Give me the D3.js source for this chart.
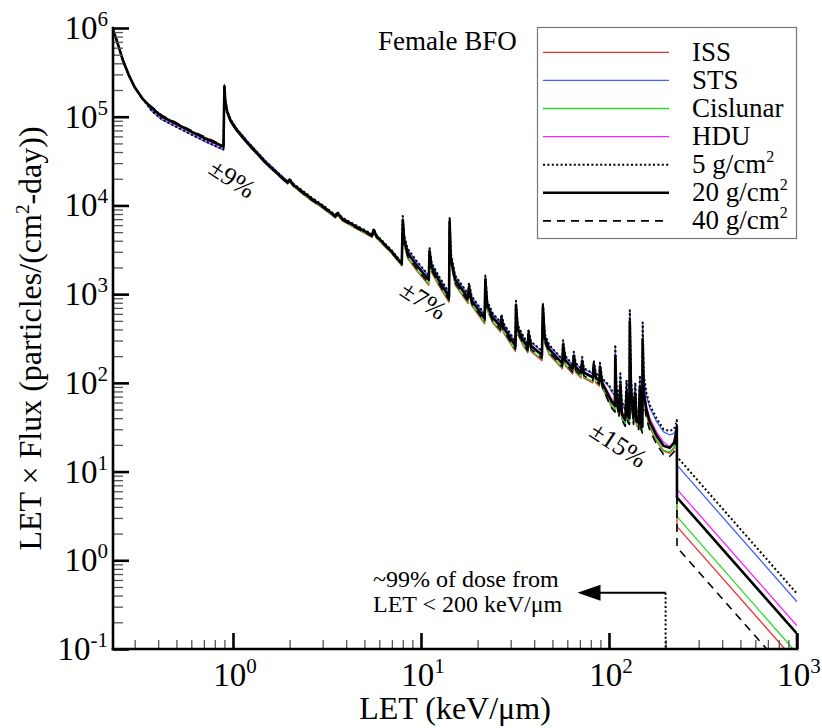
<!DOCTYPE html>
<html>
<head>
<meta charset="utf-8">
<script src="https://cdnjs.cloudflare.com/ajax/libs/d3/7.8.5/d3.min.js"></script>
<style>
    body { margin: 0; background: #fff; }
    svg, text { font-family: "Liberation Serif", "Times New Roman", serif; }
</style>
</head>
<body>
<svg id="chart" width="822" height="728"></svg>
<script>
// LET grid shared by every spectrum (keV/um)
var letGrid = [0.23, 0.24, 0.25, 0.26, 0.28, 0.30, 0.33, 0.37, 0.42, 0.5, 0.6, 0.7, 0.8, 0.89,
    0.9, 0.91, 0.93, 0.97, 1.05, 1.2, 1.5, 1.95,
    2.0, 2.1, 2.6, 3.0, 3.5, 3.6, 3.8, 4.5, 5.5, 5.6, 5.8, 7.0, 7.9,
    8.0, 8.15, 8.5, 9.5, 11.0, 11.1, 11.4, 12.5, 14.1, 14.2, 14.4, 15.2, 17.8, 18.0, 18.6, 21.8, 22.0, 22.5, 24, 26.5, 26.8, 27.5, 31.8, 32.0, 32.7, 35, 37, 37.3, 38.5, 44, 44.5, 45.5, 48, 56.5, 57, 58.5, 64, 65, 66.5, 71, 72, 73.5, 82, 83, 85, 89, 89.5, 92,
    100, 104, 107.5, 108, 109.5, 113, 115, 117, 122, 124, 126, 128.5, 129, 131, 135, 138, 140, 144, 146, 148, 150.5,
    151, 153, 158, 165, 180, 195, 210, 222, 227, 229.5,
    230, 1000];

// LET x flux, particles/(cm2-day)
var fluxISS = [9.3e5, 7.25e5, 5.5e5, 4.2e5, 2.85e5, 2.1e5, 1.57e5, 1.25e5, 1.0e5, 8.3e4, 6.8e4, 5.8e4, 5.1e4, 4.6e4,
    2.13e5, 1.46e5, 1.12e5, 8.7e4, 6.8e4, 4.85e4, 2.91e4, 1.75e4,
    1.85e4, 1.62e4, 1.14e4, 9300, 7200, 7800, 6750, 5500, 4370, 5000, 4280, 2850, 2090,
    5900, 3480, 2520, 1830, 1260, 2610, 1740, 1220, 809, 5740, 2260, 1260, 783, 1044, 740, 461, 1262, 653, 479, 374, 461, 365, 226, 653, 348, 261, 218, 313, 226, 178, 626, 278, 209, 144, 235, 157, 126, 174, 131, 113, 152, 113, 100, 139, 100, 91.4, 131, 87,
    60.9, 52.2, 47.9, 174, 60.9, 41.8, 82.7, 39.2, 33.1, 69.6, 36.5, 34.8, 426, 69.6, 34.8, 65.3, 33.1, 30.5, 78.3, 30.5, 27.8,
    270, 69.6, 43.5, 31.3, 21.8, 17, 16.1, 18.3, 23.5, 27.8,
    2.4, 0.070];

var fluxSTS = [9.5e5, 7.4e5, 5.6e5, 4.3e5, 2.9e5, 2.15e5, 1.6e5, 1.15e5, 9.2e4, 7.6e4, 6.3e4, 5.3e4, 4.7e4, 4.2e4,
    2.31e5, 1.58e5, 1.21e5, 9.45e4, 7.35e4, 5.25e4, 3.15e4, 1.89e4,
    1.99e4, 1.73e4, 1.22e4, 1.0e4, 7750, 8350, 7250, 5900, 4700, 5400, 4600, 3060, 2240,
    7500, 4400, 3190, 2310, 1600, 3300, 2200, 1540, 1020, 7260, 2860, 1600, 990, 1320, 935, 583, 1600, 825, 605, 473, 583, 462, 286, 825, 440, 330, 275, 396, 286, 226, 792, 352, 264, 182, 297, 198, 160, 220, 165, 143, 193, 143, 127, 176, 127, 116, 165, 110,
    91, 78, 71.5, 260, 91, 62, 124, 58.5, 49, 104, 55, 52, 640, 104, 52, 97.5, 49, 45.5, 117, 45.5, 41.6,
    450, 116, 72.5, 52, 36, 28, 26, 27, 30, 33,
    11.8, 0.34];

var fluxCislunar = [9.5e5, 7.4e5, 5.6e5, 4.3e5, 2.9e5, 2.15e5, 1.6e5, 1.28e5, 1.02e5, 8.5e4, 6.9e4, 5.9e4, 5.2e4, 4.7e4,
    2.16e5, 1.47e5, 1.13e5, 8.8e4, 6.9e4, 4.9e4, 2.94e4, 1.76e4,
    1.87e4, 1.63e4, 1.15e4, 9400, 7300, 7900, 6800, 5600, 4400, 5100, 4300, 2880, 2110,
    6100, 3600, 2610, 1890, 1300, 2700, 1800, 1260, 837, 5900, 2340, 1300, 810, 1080, 765, 477, 1300, 675, 495, 387, 477, 378, 234, 675, 360, 270, 225, 324, 234, 185, 648, 288, 216, 149, 243, 162, 131, 180, 135, 117, 158, 117, 104, 144, 104, 94.5, 135, 90,
    63, 54, 49.5, 180, 63, 43.2, 85.5, 40.5, 34.2, 72, 37.8, 36, 441, 72, 36, 67.5, 34.2, 31.5, 81, 31.5, 28.8,
    279, 72, 45, 32.4, 22.5, 17.5, 16.6, 18.9, 24.3, 28.8,
    3.1, 0.089];

var fluxHDU = [9.5e5, 7.4e5, 5.6e5, 4.3e5, 2.9e5, 2.15e5, 1.6e5, 1.21e5, 9.7e4, 8.05e4, 6.6e4, 5.6e4, 4.95e4, 4.45e4,
    2.2e5, 1.5e5, 1.15e5, 9.0e4, 7.0e4, 5.0e4, 3.0e4, 1.8e4,
    1.95e4, 1.7e4, 1.2e4, 9800, 7600, 8200, 7100, 5800, 4600, 5300, 4500, 3000, 2200,
    7000, 4120, 2990, 2160, 1490, 3090, 2060, 1440, 958, 6800, 2680, 1490, 927, 1236, 876, 546, 1494, 773, 567, 443, 546, 433, 268, 773, 412, 309, 258, 371, 268, 211, 742, 330, 247, 170, 278, 185, 149, 206, 155, 134, 180, 134, 118, 165, 118, 108, 155, 103,
    75.6, 64.8, 59.4, 216, 75.6, 51.8, 103, 48.6, 41, 86.4, 45.4, 43.2, 529, 86.4, 43.2, 81, 41, 37.8, 97.2, 37.8, 34.6,
    341, 88, 55, 39.6, 27.5, 21.5, 19, 22, 26, 30,
    6.3, 0.183];

var flux5 = [9.5e5, 7.4e5, 5.6e5, 4.3e5, 2.9e5, 2.15e5, 1.6e5, 1.16e5, 9.3e4, 7.7e4, 6.3e4, 5.4e4, 4.7e4, 4.3e4,
    2.27e5, 1.55e5, 1.18e5, 9.3e4, 7.2e4, 5.15e4, 3.1e4, 1.85e4,
    2.0e4, 1.75e4, 1.24e4, 1.01e4, 7800, 8450, 7300, 6000, 4750, 5450, 4650, 3100, 2270,
    7600, 4500, 3250, 2350, 1620, 3360, 2240, 1570, 1040, 7400, 2900, 1620, 1010, 1340, 950, 594, 1620, 840, 616, 482, 594, 470, 291, 840, 448, 336, 280, 403, 291, 230, 806, 358, 269, 185, 302, 202, 162, 224, 168, 146, 196, 146, 129, 179, 129, 118, 168, 112,
    94.5, 81, 74, 270, 94.5, 65, 128, 61, 51, 108, 57, 54, 660, 108, 54, 101, 51, 47, 122, 47, 43,
    480, 124, 78, 56, 39, 30, 28.7, 30, 35, 38,
    14.7, 0.42];

// 20 g/cm2 closes down onto the axis at 1000 keV/um
var let20 = letGrid.concat([1000]);
var flux20 = [9.5e5, 7.4e5, 5.6e5, 4.3e5, 2.9e5, 2.15e5, 1.6e5, 1.25e5, 1.0e5, 8.3e4, 6.8e4, 5.8e4, 5.1e4, 4.6e4,
    2.2e5, 1.5e5, 1.15e5, 9.0e4, 7.0e4, 5.0e4, 3.0e4, 1.8e4,
    1.95e4, 1.7e4, 1.2e4, 9800, 7600, 8200, 7100, 5800, 4600, 5300, 4500, 3000, 2200,
    6800, 4000, 2900, 2100, 1450, 3000, 2000, 1400, 930, 6600, 2600, 1450, 900, 1200, 850, 530, 1450, 750, 550, 430, 530, 420, 260, 750, 400, 300, 250, 360, 260, 205, 720, 320, 240, 165, 270, 180, 145, 200, 150, 130, 175, 130, 115, 160, 115, 105, 150, 100,
    70, 60, 55, 200, 70, 48, 95, 45, 38, 80, 42, 40, 490, 80, 40, 75, 38, 35, 90, 35, 32,
    310, 80, 50, 36, 25, 19.5, 18.5, 21, 27, 32,
    5.1, 0.149, 0.1];

var flux40 = [9.5e5, 7.4e5, 5.6e5, 4.3e5, 2.9e5, 2.15e5, 1.6e5, 1.29e5, 1.03e5, 8.55e4, 7.0e4, 6.0e4, 5.25e4, 4.75e4,
    2.16e5, 1.47e5, 1.13e5, 8.8e4, 6.9e4, 4.9e4, 2.94e4, 1.76e4,
    1.89e4, 1.65e4, 1.16e4, 9500, 7400, 7950, 6900, 5600, 4460, 5150, 4370, 2910, 2130,
    6260, 3680, 2670, 1930, 1330, 2760, 1840, 1290, 856, 6070, 2390, 1330, 828, 1104, 782, 488, 1334, 690, 506, 396, 488, 386, 239, 690, 368, 276, 230, 331, 239, 189, 662, 294, 221, 152, 248, 166, 133, 184, 138, 120, 161, 120, 106, 147, 106, 96.6, 138, 92,
    59.5, 51, 46.8, 170, 59.5, 40.8, 80.8, 38.3, 32.3, 68, 35.7, 34, 417, 68, 34, 63.8, 32.3, 29.8, 76.5, 29.8, 27.2,
    248, 64, 40, 28.8, 20, 15.6, 14.8, 16.8, 21.6, 25.6,
    1.4, 0.041];

var xDecades = [0, 1, 2, 3];
var yDecades = [-1, 0, 1, 2, 3, 4, 5, 6];
var spreadLabels = [
    {text: "\u00b19%", let: 0.99, flux: 2.0e4},
    {text: "\u00b17%", let: 10.3, flux: 850},
    {text: "\u00b115%", let: 112, flux: 20}
];
var doseLET = 200, doseArrowFlux = 0.43, doseArrowTip = 68;

var series = [
    {name: "ISS", let: letGrid, flux: fluxISS, color: "#ee2d2d", width: 1.3, dash: null},
    {name: "Cislunar", let: letGrid, flux: fluxCislunar, color: "#22dd22", width: 1.3, dash: null},
    {name: "HDU", let: letGrid, flux: fluxHDU, color: "#ff22ff", width: 1.3, dash: null},
    {name: "STS", let: letGrid, flux: fluxSTS, color: "#4060ff", width: 1.3, dash: null},
    {name: "40 g/cm", sup: "2", let: letGrid, flux: flux40, color: "#000", width: 1.6, dash: "8,6"},
    {name: "5 g/cm", sup: "2", let: letGrid, flux: flux5, color: "#000", width: 2, dash: "2,2.4"},
    {name: "20 g/cm", sup: "2", let: let20, flux: flux20, color: "#000", width: 2.6, dash: null}
];
var legendOrder = ["ISS", "STS", "Cislunar", "HDU", "5 g/cm", "20 g/cm", "40 g/cm"];

var serif = "Liberation Serif, Times New Roman, serif";
var svg = d3.select("#chart");

var x = d3.scaleLog().domain([0.23, 1000]).range([113, 797]);
var y = d3.scaleLog().domain([0.1, 1e6]).range([649, 28]);

svg.append("clipPath").attr("id", "plot-clip")
    .append("rect")
    .attr("x", x.range()[0]).attr("y", y.range()[1])
    .attr("width", x.range()[1] - x.range()[0])
    .attr("height", y.range()[0] - y.range()[1]);

// spectra
var line = d3.line()
    .x(function(d) { return x(d[0]); })
    .y(function(d) { return y(d[1]); });

svg.append("g").attr("clip-path", "url(#plot-clip)")
    .selectAll("path")
    .data(series)
    .enter().append("path")
    .attr("d", function(s) { return line(d3.zip(s.let, s.flux)); })
    .attr("fill", "none")
    .attr("stroke", function(s) { return s.color; })
    .attr("stroke-width", function(s) { return s.width; })
    .attr("stroke-dasharray", function(s) { return s.dash; })
    .attr("stroke-linejoin", "round");

// axes: major + minor ticks pointing inward, no top/right frame
var xMajor = xDecades.map(function(k) { return Math.pow(10, k); });
var yMajor = yDecades.map(function(k) { return Math.pow(10, k); });
var xMinor = x.ticks().filter(function(v) { return xMajor.indexOf(v) < 0 && v >= 0.23; });
var yMinor = y.ticks().filter(function(v) { return yMajor.indexOf(v) < 0; });

function styleAxis(g, w, col) {
    g.select(".domain").remove();
    g.selectAll(".tick line").attr("stroke", col).attr("stroke-width", w);
}

svg.append("g").attr("transform", "translate(0," + y.range()[0] + ")")
    .call(d3.axisBottom(x).tickValues(xMinor).tickSize(-9).tickFormat(""))
    .call(styleAxis, 1.3, "#555");
svg.append("g").attr("transform", "translate(0," + y.range()[0] + ")")
    .call(d3.axisBottom(x).tickValues(xMajor).tickSize(-16).tickFormat(""))
    .call(styleAxis, 2.6, "#000");
svg.append("g").attr("transform", "translate(" + x.range()[0] + ",0)")
    .call(d3.axisLeft(y).tickValues(yMinor).tickSize(-10).tickFormat(""))
    .call(styleAxis, 1.3, "#555");
svg.append("g").attr("transform", "translate(" + x.range()[0] + ",0)")
    .call(d3.axisLeft(y).tickValues(yMajor).tickSize(-16).tickFormat(""))
    .call(styleAxis, 2.6, "#000");

svg.append("line")
    .attr("x1", x.range()[0]).attr("x2", x.range()[1])
    .attr("y1", y.range()[0]).attr("y2", y.range()[0])
    .attr("stroke", "#000").attr("stroke-width", 2.6).attr("stroke-linecap", "square");
svg.append("line")
    .attr("x1", x.range()[0]).attr("x2", x.range()[0])
    .attr("y1", y.range()[1]).attr("y2", y.range()[0])
    .attr("stroke", "#000").attr("stroke-width", 2.6).attr("stroke-linecap", "square");

// power-of-ten tick labels
function powLabel(sel, k) {
    sel.append("tspan").text("10");
    sel.append("tspan").attr("dy", -13).attr("font-size", 21).text(k);
}
xDecades.forEach(function(k) {
    svg.append("text")
        .attr("x", x(Math.pow(10, k)) + 2).attr("y", 686)
        .attr("text-anchor", "middle").attr("font-size", 33).attr("font-family", serif)
        .call(powLabel, k);
});
yDecades.forEach(function(k) {
    svg.append("text")
        .attr("x", 108).attr("y", y(Math.pow(10, k)) + 11)
        .attr("text-anchor", "end").attr("font-size", 33).attr("font-family", serif)
        .call(powLabel, k);
});

// axis titles
svg.append("text")
    .attr("x", (x.range()[0] + x.range()[1]) / 2).attr("y", 719)
    .attr("text-anchor", "middle").attr("font-size", 32).attr("font-family", serif)
    .text("LET (keV/\u03bcm)");

var yTitle = svg.append("text")
    .attr("transform", "translate(41," + ((y.range()[0] + y.range()[1]) / 2) + ") rotate(-90)")
    .attr("text-anchor", "middle").attr("font-size", 32).attr("font-family", serif);
yTitle.append("tspan").text("LET \u00d7 Flux (particles/(cm");
yTitle.append("tspan").attr("dy", -12).attr("font-size", 19).text("2");
yTitle.append("tspan").attr("dy", 12).text("-day))");

// spread annotations
svg.selectAll(".spread")
    .data(spreadLabels)
    .enter().append("text")
    .attr("class", "spread")
    .attr("transform", function(d) { return "translate(" + x(d.let) + "," + y(d.flux) + ") rotate(33)"; })
    .attr("text-anchor", "middle").attr("dominant-baseline", "central")
    .attr("font-size", 26).attr("font-family", serif)
    .text(function(d) { return d.text; });

// ~99% of dose arrow
var ax = x(doseLET), ay = y(doseArrowFlux), tip = x(doseArrowTip);
svg.append("line")
    .attr("x1", ax).attr("x2", ax).attr("y1", ay).attr("y2", y.range()[0])
    .attr("stroke", "#000").attr("stroke-width", 2).attr("stroke-dasharray", "2,2.4");
svg.append("line")
    .attr("x1", ax).attr("x2", tip + 20).attr("y1", ay).attr("y2", ay)
    .attr("stroke", "#000").attr("stroke-width", 2);
svg.append("path")
    .attr("d", "M" + tip + "," + ay + "L" + (tip + 23) + "," + (ay - 8) + "L" + (tip + 23) + "," + (ay + 8) + "Z")
    .attr("fill", "#000");
svg.append("text")
    .attr("x", 373).attr("y", ay - 6).attr("font-size", 24).attr("font-family", serif)
    .text("~99% of dose from");
svg.append("text")
    .attr("x", 373).attr("y", ay + 19).attr("font-size", 24).attr("font-family", serif)
    .text("LET < 200 keV/\u03bcm");

// title + legend
svg.append("text")
    .attr("x", 378).attr("y", 50).attr("font-size", 27).attr("font-family", serif)
    .text("Female BFO");

svg.append("rect")
    .attr("x", 537.5).attr("y", 27.5).attr("width", 259).attr("height", 211)
    .attr("fill", "#fff").attr("stroke", "#777").attr("stroke-width", 1.2);

var byName = {};
series.forEach(function(s) { byName[s.name] = s; });

var legend = svg.selectAll(".legend")
    .data(legendOrder.map(function(n) { return byName[n]; }))
    .enter().append("g")
    .attr("class", "legend")
    .attr("transform", function(d, i) { return "translate(0," + (52.3 + i * 28.1) + ")"; });

legend.append("line")
    .attr("x1", 543).attr("x2", 669)
    .attr("stroke", function(d) { return d.color; })
    .attr("stroke-width", function(d) { return d.width; })
    .attr("stroke-dasharray", function(d) { return d.dash; });

legend.append("text")
    .attr("x", 692).attr("y", 8.5).attr("font-size", 27).attr("font-family", serif)
    .each(function(d) {
        var t = d3.select(this);
        t.append("tspan").text(d.name);
        if (d.sup) t.append("tspan").attr("dy", -11).attr("font-size", 16).text(d.sup);
    });
</script>
</body>
</html>
